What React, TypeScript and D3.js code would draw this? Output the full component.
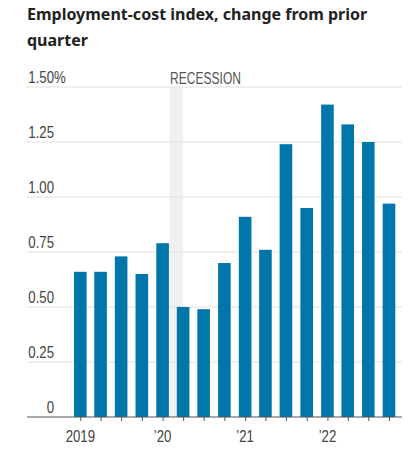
import { useEffect, useRef } from "react";
import * as d3 from "d3";

const quarters = [
  "2019-01-01", "2019-04-01", "2019-07-01", "2019-10-01",
  "2020-01-01", "2020-04-01", "2020-07-01", "2020-10-01",
  "2021-01-01", "2021-04-01", "2021-07-01", "2021-10-01",
  "2022-01-01", "2022-04-01", "2022-07-01", "2022-10-01",
];
const changes = [0.66, 0.66, 0.73, 0.65, 0.79, 0.50, 0.49, 0.70, 0.91, 0.76, 1.24, 0.95, 1.42, 1.33, 1.25, 0.97];
const yTicks = [0, 0.25, 0.5, 0.75, 1.0, 1.25, 1.5];
const yTickLabels = ["0", "0.25", "0.50", "0.75", "1.00", "1.25", "1.50"];
const yearTicks = ["2019-01-01", "2020-01-01", "2021-01-01", "2022-01-01"];
const yearLabels = ["2019", "\u201920", "\u201921", "\u201922"];
const recession = ["2020-02-01", "2020-04-01"];

const W = 413;
const H = 461;
const parse = d3.utcParse("%Y-%m-%d");
const labelFont = "'Liberation Sans', sans-serif";
const labelSize = 16.5;
const squeeze = 0.8;

const App = () => {
  const svgRef = useRef(null);

  useEffect(() => {
    document.body.style.margin = "0";
    if (!svgRef.current) return;
    d3.select(svgRef.current).selectAll("*").remove();

    const svg = d3.select(svgRef.current);
    const left = 27;
    const right = 402;

    const x = d3
      .scaleUtc()
      .domain([parse(quarters[0]), parse(quarters[quarters.length - 1])])
      .range([80.3, 389]);
    const y = d3.scaleLinear().domain([0, 1.5]).range([417, 87]);
    const barW = 12.6;

    // narrow label helper (the original uses a condensed face)
    const label = (g, px, py, txt, anchor = "start", sx = squeeze) =>
      g
        .append("text")
        .attr("transform", `translate(${px},${py}) scale(${sx},1)`)
        .attr("text-anchor", anchor)
        .attr("font-family", labelFont)
        .attr("font-size", labelSize)
        .attr("fill", "#444")
        .text(txt);

    // title
    const title = svg
      .append("text")
      .attr("x", left)
      .attr("font-family", "'Noto Sans', sans-serif")
      .attr("font-weight", 700)
      .attr("font-size", 16)
      .attr("fill", "#222");
    title.append("tspan").attr("x", left).attr("y", 20).text("Employment-cost index, change from prior");
    title.append("tspan").attr("x", left).attr("y", 45.5).text("quarter");

    // recession shading
    const r0 = x(parse(recession[0]));
    const r1 = x(parse(recession[1]));
    svg
      .append("rect")
      .attr("x", r0)
      .attr("y", y(1.5))
      .attr("width", r1 - r0)
      .attr("height", y(0) - y(1.5))
      .attr("fill", "#f0f0f2");
    label(svg, r0 + 0.5, y(1.5) - 3, "RECESSION", "start", 0.73).attr("fill", "#555");

    // gridlines + y labels
    const grid = svg.append("g");
    yTicks.forEach((t, i) => {
      if (t !== 0) {
        grid
          .append("line")
          .attr("x1", left)
          .attr("x2", right)
          .attr("y1", y(t))
          .attr("y2", y(t))
          .attr("stroke", "#e0e0e0")
          .attr("stroke-width", 1);
      }
      label(grid, 54, y(t) - 4, yTickLabels[i], "end");
      if (i === yTicks.length - 1) label(grid, 54, y(t) - 4, "%");
    });

    // bars
    svg
      .append("g")
      .selectAll("rect")
      .data(changes)
      .join("rect")
      .attr("x", (_, i) => x(parse(quarters[i])) - barW / 2)
      .attr("y", (d) => y(d))
      .attr("width", barW)
      .attr("height", (d) => y(0) - y(d))
      .attr("fill", "#0076aa");

    // x axis
    const axis = d3
      .axisBottom(x)
      .tickValues(quarters.map((q) => parse(q)))
      .tickSize(4)
      .tickFormat(() => "");
    const ax = svg.append("g").attr("transform", `translate(0,${y(0)})`).call(axis);
    ax.select(".domain").remove();
    ax.selectAll(".tick line").attr("stroke", "#555");
    svg
      .append("line")
      .attr("x1", left)
      .attr("x2", right)
      .attr("y1", y(0))
      .attr("y2", y(0))
      .attr("stroke", "#555")
      .attr("stroke-width", 1.2);

    const years = svg.append("g");
    yearTicks.forEach((d, i) => label(years, x(parse(d)), 442, yearLabels[i], "middle"));
  }, []);

  return <svg ref={svgRef} width={W} height={H} style={{ display: "block", background: "#fff" }} />;
};

export default App;
